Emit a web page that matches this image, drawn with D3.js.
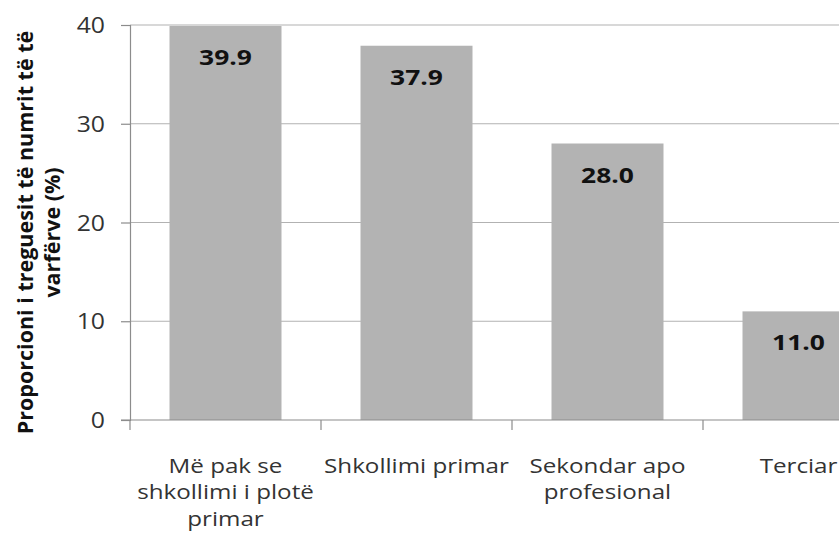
<!DOCTYPE html>
<html>
<head>
<meta charset="utf-8">
<script src="https://cdn.jsdelivr.net/npm/d3@7"></script>
<style>
  body { margin: 0; background: #fff; }
  text { font-family: "Open Sans", sans-serif; }
</style>
</head>
<body>
<div id="chart"></div>
<script>
// chart data
const categories = ["Më pak se\nshkollimi i plotë\nprimar", "Shkollimi primar", "Sekondar apo\nprofesional", "Terciar"];
const values = [39.9, 37.9, 28.0, 11.0];
const yTicks = [0, 10, 20, 30, 40];
const yTitle = ["Proporcioni i treguesit të numrit të të", "varfërve (%)"];

const width = 839, height = 539;
const plot = {left: 130, right: 894, top: 25, bottom: 420};
const stretch = 1.18;   // source text is a bit wider than Open Sans

let svg = d3.select("#chart")
  .append("svg")
  .attr("width", width)
  .attr("height", height);

let x = d3.scaleBand()
  .domain(categories)
  .range([plot.left, plot.right])
  .paddingInner(0.4136)
  .paddingOuter(0.2068);

let y = d3.scaleLinear()
  .domain([0, 40])
  .range([plot.bottom, plot.top]);

// gridlines
svg.append("g")
  .selectAll("line")
  .data(yTicks.filter(d => d > 0))
  .enter().append("line")
  .attr("x1", plot.left).attr("x2", plot.right)
  .attr("y1", d => y(d)).attr("y2", d => y(d))
  .attr("stroke", "#b2b2b2")
  .attr("stroke-width", 1.2);

// bars
svg.append("g")
  .selectAll("rect")
  .data(values)
  .enter().append("rect")
  .attr("x", (d, i) => x(categories[i]))
  .attr("y", d => y(d))
  .attr("width", x.bandwidth())
  .attr("height", d => y(0) - y(d))
  .attr("fill", "#b3b3b3");

// y axis
let yAxis = svg.append("g")
  .attr("transform", `translate(${plot.left},0)`)
  .call(d3.axisLeft(y).tickValues(yTicks).tickSize(9).tickPadding(16));
yAxis.select(".domain").attr("stroke", "#8c8c8c").attr("stroke-width", 1.2);
yAxis.selectAll(".tick line").attr("stroke", "#8c8c8c").attr("stroke-width", 1.2);
yAxis.selectAll(".tick text")
  .attr("x", 0)
  .attr("transform", `translate(-25,0) scale(${stretch},1)`)
  .style("font-size", "21px")
  .attr("dy", "0.36em")
  .attr("fill", "#333");

// x baseline + category boundary ticks
svg.append("line")
  .attr("x1", plot.left - 9).attr("x2", plot.right)
  .attr("y1", y(0)).attr("y2", y(0))
  .attr("stroke", "#8c8c8c").attr("stroke-width", 1.2);

let step = x.step();
svg.append("g")
  .selectAll("line")
  .data(d3.range(categories.length + 1))
  .enter().append("line")
  .attr("x1", i => plot.left + i * step).attr("x2", i => plot.left + i * step)
  .attr("y1", y(0)).attr("y2", y(0) + 10)
  .attr("stroke", "#8c8c8c").attr("stroke-width", 1.2);

// category labels
let labels = svg.append("g")
  .selectAll("text")
  .data(categories)
  .enter().append("text")
  .attr("transform", d => `translate(${x(d) + x.bandwidth() / 2},473) scale(${stretch},1)`)
  .attr("text-anchor", "middle")
  .attr("fill", "#333")
  .style("font-size", "20.5px");
labels.each(function(d) {
  let t = d3.select(this);
  d.split("\n").forEach((line, j) => {
    t.append("tspan")
      .attr("x", 0)
      .attr("y", j * 26.5)
      .text(line);
  });
});

// value labels
svg.append("g")
  .selectAll("text")
  .data(values)
  .enter().append("text")
  .attr("transform", (d, i) => `translate(${x(categories[i]) + x.bandwidth() / 2},${y(d) + 39}) scale(1.2,1)`)
  .attr("text-anchor", "middle")
  .style("font-size", "22px")
  .style("font-weight", "bold")
  .attr("fill", "#111")
  .text(d => d.toFixed(1));

// y axis title
let title = svg.append("text")
  .attr("transform", `translate(0, ${(plot.top + plot.bottom) / 2 + 10}) rotate(-90)`)
  .attr("text-anchor", "middle")
  .style("font-size", "21.5px")
  .style("font-weight", "bold")
  .attr("fill", "#111");
yTitle.forEach((line, j) => {
  title.append("tspan")
    .attr("x", 0)
    .attr("y", 33 + j * 27)
    .text(line);
});
</script>
</body>
</html>
